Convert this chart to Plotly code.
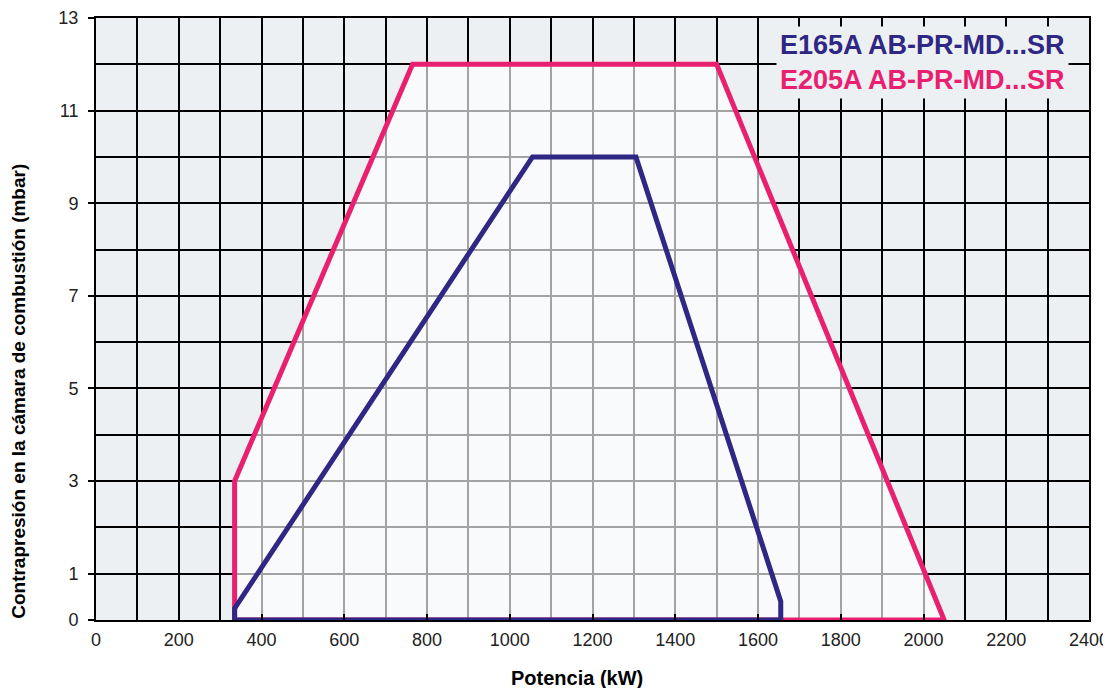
import plotly.graph_objects as go

# Data
e205_x = [335, 335, 765, 1500, 2050, 335]
e205_y = [0, 3, 12, 12, 0, 0]
e165_x = [335, 335, 1055, 1305, 1655, 1655, 335]
e165_y = [0, 0.25, 10, 10, 0.4, 0, 0]
names = ["E165A AB-PR-MD...SR", "E205A AB-PR-MD...SR"]
colors = ["#2e2783", "#e8206f"]
x_ticks = list(range(0, 2401, 200))
y_ticks = [0, 1, 3, 5, 7, 9, 11, 13]

BG = "#edf0f3"
fig = go.Figure()
# light field inside the E205A envelope (softens grid inside)
fig.add_trace(go.Scatter(x=e205_x, y=e205_y, mode="lines", fill="toself",
                         fillcolor="rgba(255,255,255,0.64)", line=dict(width=0),
                         hoverinfo="skip", showlegend=False))
fig.add_trace(go.Scatter(x=e205_x, y=e205_y, mode="lines", name=names[1],
                         line=dict(color=colors[1], width=5), showlegend=False))
fig.add_trace(go.Scatter(x=e165_x, y=e165_y, mode="lines", name=names[0],
                         line=dict(color=colors[0], width=5), showlegend=False))

fig.add_annotation(
    xref="paper", yref="paper", x=0.98, y=0.986, xanchor="right", yanchor="top",
    text=(f"<b><span style='color:{colors[0]}'>{names[0]}</span><br>"
          f"<span style='color:{colors[1]}'>{names[1]}</span></b>"),
    showarrow=False, align="left", bgcolor=BG, borderpad=3,
    font=dict(family="Liberation Sans", size=27),
)
fig.add_annotation(
    xref="paper", yref="paper", x=0.484, y=-0.096, xanchor="center", yanchor="middle",
    text="<b>Potencia (kW)</b>", showarrow=False,
    font=dict(family="Liberation Sans", size=20, color="black"),
)
fig.add_annotation(
    xref="paper", yref="paper", x=-0.078, y=0.38, xanchor="center", yanchor="middle",
    text="<b>Contrapresión en la cámara de combustión (mbar)</b>", showarrow=False,
    textangle=-90, font=dict(family="Liberation Sans", size=19, color="black"),
)

fig.update_xaxes(
    range=[0, 2400], tickvals=x_ticks, ticks="inside", ticklen=6, tickwidth=2,
    tickcolor="black", showgrid=True, gridcolor="black", gridwidth=1.6,
    minor=dict(dtick=100, tick0=0, showgrid=True, gridcolor="black", gridwidth=1.6, ticks=""),
    showline=True, linecolor="black", linewidth=2, mirror=True, zeroline=False,
    tickfont=dict(family="Liberation Sans", size=18, color="#222"), automargin=False,
    ticklabelstandoff=2,
)
fig.update_yaxes(
    range=[0, 13], tickvals=y_ticks, ticks="outside", ticklen=6, tickwidth=2,
    tickcolor="black", showgrid=True, gridcolor="black", gridwidth=1.6,
    minor=dict(dtick=1, tick0=0, showgrid=True, gridcolor="black", gridwidth=1.6, ticks=""),
    showline=True, linecolor="black", linewidth=2, mirror=True, zeroline=False,
    tickfont=dict(family="Liberation Sans", size=18, color="#222"), automargin=False,
    ticklabelstandoff=6,
)
fig.update_layout(
    width=1103, height=680, paper_bgcolor="white", plot_bgcolor=BG,
    margin=dict(l=88, r=22, t=10, b=68, autoexpand=False), showlegend=False,
)
fig.write_html("out.html")
